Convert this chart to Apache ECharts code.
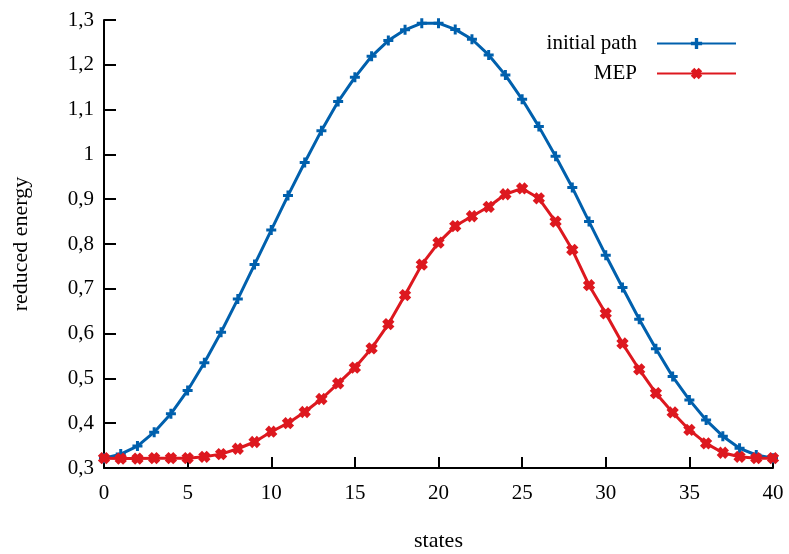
<!DOCTYPE html>
<html>
<head>
<meta charset="utf-8">
<script src="https://cdn.jsdelivr.net/npm/echarts@6/dist/echarts.min.js"></script>
<style>
  html, body { margin: 0; padding: 0; background: #fff; }
  #chart { width: 789px; height: 554px; }
</style>
</head>
<body>
<div id="chart"></div>
<script>
// states 0..40
const states = [0, 1, 2, 3, 4, 5, 6, 7, 8, 9, 10, 11, 12, 13, 14, 15, 16, 17, 18, 19, 20,
  21, 22, 23, 24, 25, 26, 27, 28, 29, 30, 31, 32, 33, 34, 35, 36, 37, 38, 39, 40]

const initialPath = [0.322, 0.331, 0.349, 0.380, 0.421, 0.473, 0.535, 0.603, 0.677, 0.754, 0.831,
  0.908, 0.982, 1.053, 1.118, 1.172, 1.219, 1.254, 1.278, 1.293, 1.293,
  1.279, 1.257, 1.222, 1.177, 1.123, 1.062, 0.996, 0.926, 0.850, 0.775,
  0.703, 0.632, 0.566, 0.504, 0.452, 0.407, 0.371, 0.344, 0.329, 0.322]

const mep = [0.322, 0.321, 0.321, 0.322, 0.322, 0.322, 0.325, 0.331, 0.343, 0.358, 0.381,
  0.400, 0.425, 0.454, 0.489, 0.524, 0.567, 0.621, 0.686, 0.754, 0.803,
  0.840, 0.862, 0.883, 0.911, 0.924, 0.902, 0.850, 0.787, 0.708, 0.645,
  0.578, 0.520, 0.467, 0.424, 0.385, 0.355, 0.334, 0.325, 0.322, 0.322]

const seriesNames = ['initial path', 'MEP']

const font = 'Liberation Serif'
const plusPath = 'path://M-1.2,-4H1.2V-1.2H4V1.2H1.2V4H-1.2V1.2H-4V-1.2H-1.2Z'
const crossPath = 'path://M-1.8,-4H1.8V-1.8H4V1.8H1.8V4H-1.8V1.8H-4V-1.8H-1.8Z'

function pairs (ys) {
  return states.map((x, i) => [x, ys[i]])
}

const chart = echarts.init(document.getElementById('chart'))
const option = {
  animation: false,
  backgroundColor: '#fff',
  textStyle: { fontFamily: font, color: '#000' },
  grid: { left: 104, right: 16, top: 20, bottom: 86, containLabel: false, outerBoundsMode: 'none' },
  legend: {
    orient: 'vertical',
    right: 47,
    top: 28,
    align: 'right',
    itemWidth: 79,
    itemHeight: 14,
    itemGap: 9,
    textStyle: { fontFamily: font, fontSize: 21, color: '#000', padding: [0, 15, 0, 0] },
    data: seriesNames
  },
  xAxis: {
    type: 'value',
    min: 0,
    max: 40,
    interval: 5,
    name: 'states',
    nameLocation: 'middle',
    nameGap: 62,
    nameTextStyle: { fontFamily: font, fontSize: 22, color: '#000' },
    axisLine: { show: true, onZero: false, lineStyle: { color: '#000', width: 2 } },
    axisTick: { show: true, inside: true, length: 11, lineStyle: { color: '#000', width: 2 } },
    axisLabel: {
      fontFamily: font, fontSize: 21, color: '#000', margin: 15,
      showMinLabel: true, showMaxLabel: true
    },
    splitLine: { show: false }
  },
  yAxis: {
    type: 'value',
    min: 0.3,
    max: 1.3,
    interval: 0.1,
    name: 'reduced energy',
    nameLocation: 'middle',
    nameGap: 72,
    nameRotate: 90,
    nameTextStyle: { fontFamily: font, fontSize: 22, color: '#000' },
    axisLine: { show: true, onZero: false, lineStyle: { color: '#000', width: 2 } },
    axisTick: { show: true, inside: true, length: 12, lineStyle: { color: '#000', width: 2 } },
    axisLabel: {
      fontFamily: font, fontSize: 21, color: '#000', margin: 10,
      formatter: v => String(+v.toFixed(1)).replace('.', ',')
    },
    splitLine: { show: false }
  },
  series: [
    {
      name: seriesNames[0],
      type: 'line',
      data: pairs(initialPath),
      symbol: plusPath,
      symbolSize: 10,
      showAllSymbol: true,
      lineStyle: { color: '#0060ad', width: 3 },
      itemStyle: { color: '#0060ad', borderWidth: 0 },
      z: 2
    },
    {
      name: seriesNames[1],
      type: 'line',
      data: pairs(mep),
      symbol: crossPath,
      symbolSize: 12,
      symbolRotate: 45,
      showAllSymbol: true,
      lineStyle: { color: '#dd181f', width: 3 },
      itemStyle: { color: '#dd181f', borderWidth: 0 },
      z: 3
    }
  ]
}
chart.setOption(option, true)
window.addEventListener('resize', () => chart.resize())
</script>
</body>
</html>
